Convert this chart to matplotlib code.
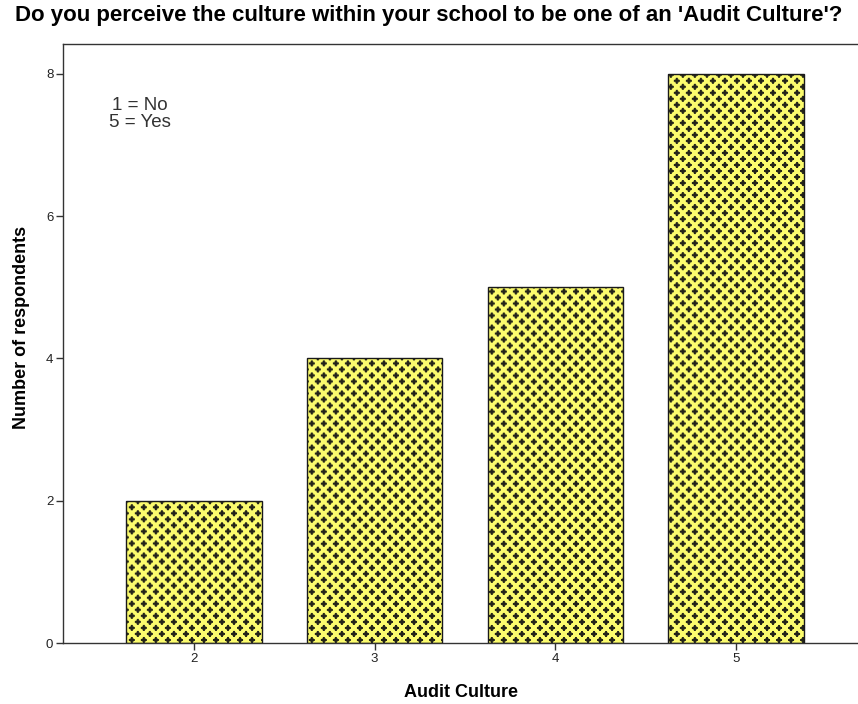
import matplotlib
matplotlib.use("Agg")
import matplotlib.pyplot as plt
import numpy as np

categories = ["2", "3", "4", "5"]
positions = [2, 3, 4, 5]
counts = [2, 4, 5, 8]
yticks = [0, 2, 4, 6, 8]

plt.rcParams["font.family"] = ["Liberation Sans", "DejaVu Sans"]

W, H = 858, 704
fig = plt.figure(figsize=(W / 100, H / 100), dpi=100)
fig.patch.set_facecolor("white")
ax = fig.add_axes([63 / W, 1 - 643 / H, 1 - 63 / W, (643 - 44) / H])

xlim = (1.276, 5.674)
ylim = (0, 8.42)

bars = ax.bar(positions, counts, width=0.75, color="none",
              edgecolor="#1a1a1a", linewidth=1.0, zorder=3)

# fill texture: dark crosses on yellow, diagonal lattice
period = 12
yellow = np.array([252, 252, 110]) / 255
dark = np.array([35, 35, 25]) / 255
tile = np.zeros((period, period, 3))
tile[:] = yellow
for c in [3, 9]:
    for i in range(c - 3, c + 3):
        for j in (c - 1, c):
            tile[j % period, i % period] = dark
            tile[i % period, j % period] = dark
    for dx in (-2, 1):
        for dy in (-2, 1):
            tile[(c + dy) % period, (c + dx) % period] = 0.5 * dark + 0.5 * yellow
ny, nx = H // period + 2, W // period + 2
pattern = np.tile(tile, (ny, nx, 1))
for b in bars:
    im = ax.imshow(pattern, extent=[xlim[0], xlim[0] + nx * period / 181.0,
                                    0, ny * period / 71.1],
                   origin="upper", interpolation="bilinear", aspect="auto", zorder=2)
    im.set_clip_path(b)
ax.set_xlim(*xlim)
ax.set_ylim(*ylim)

for s in ["left", "bottom", "top"]:
    ax.spines[s].set_color("#333333")
    ax.spines[s].set_linewidth(1.0)
ax.spines["right"].set_visible(False)

ax.set_xticks(positions)
ax.set_xticklabels(categories)
ax.set_yticks(yticks)
ax.tick_params(axis="both", direction="out", length=5, width=1, color="#333333",
               labelsize=9.5, labelcolor="#222222", pad=2)

ax.set_ylabel("Number of respondents", fontsize=13, fontweight="bold")
ax.yaxis.set_label_coords(-0.042, 0.526)
ax.set_xlabel("Audit Culture", fontsize=13, fontweight="bold", labelpad=14)

ax.text(140 / W, 1 - 114 / H, "1 = No\n5 = Yes", transform=fig.transFigure,
        ha="center", va="center", fontsize=13.5, color="#333333", linespacing=1.0)

fig.text(0.5, 1 - 15 / H, "Do you perceive the culture within your school to be one of an 'Audit Culture'?",
         ha="center", va="center", fontsize=16, fontweight="bold")

fig.savefig("out.png", dpi=100)
